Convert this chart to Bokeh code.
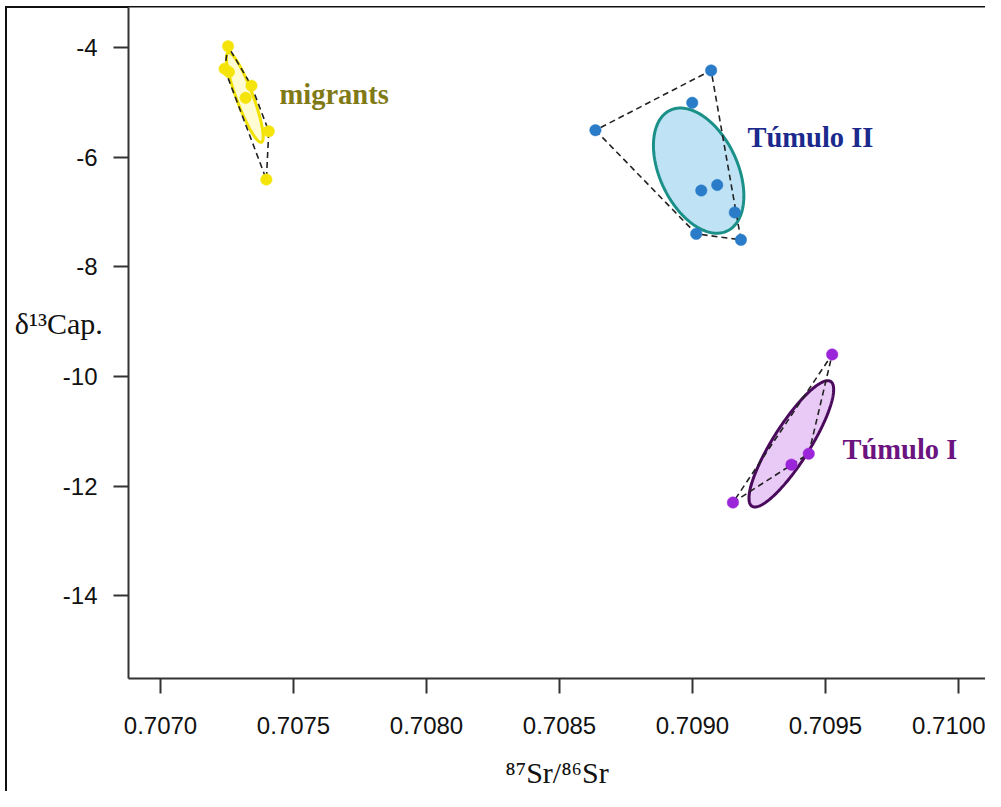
import numpy as np
from bokeh.plotting import figure
from bokeh.models import Label, FixedTicker, PrintfTickFormatter, Range1d
from bokeh.embed import file_html
from bokeh.resources import INLINE

# ---------------- data ----------------
mig_sr = [0.707254, 0.707241, 0.707257, 0.707342, 0.707320, 0.707407, 0.707398]
mig_c = [-3.98, -4.39, -4.45, -4.70, -4.92, -5.53, -6.41]

t2_sr = [0.709070, 0.708999, 0.708635, 0.709093, 0.709033, 0.709159, 0.709014, 0.709182]
t2_c = [-4.42, -5.01, -5.51, -6.51, -6.61, -7.01, -7.40, -7.51]

t1_sr = [0.709525, 0.709437, 0.709372, 0.709152]
t1_c = [-9.60, -11.41, -11.61, -12.30]

x_ticks = [0.7070, 0.7075, 0.7080, 0.7085, 0.7090, 0.7095, 0.7100]
y_ticks = [-14, -12, -10, -8, -6, -4]

group_names = ["migrants", "Túmulo II", "Túmulo I"]
x_title = "⁸⁷Sr/⁸⁶Sr"
y_title = "δ¹³Cap."

# ---------------- helpers ----------------
W, H = 985, 791
FL, FT = 128, 7            # frame left / top (px)
FR, FB = 985, 680          # frame right / bottom (px)
PXU_X = 266000.0           # px per unit of 87Sr/86Sr
PXU_Y = 55.0               # px per unit of d13C
X0 = 0.7070 - (160 - FL) / PXU_X
X1 = X0 + (FR - FL) / PXU_X
Y1 = -4 + (47 - FT) / PXU_Y
Y0 = Y1 - (FB - FT) / PXU_Y


def px2x(px):
    return X0 + (px - FL) / PXU_X


def px2y(py):
    return Y1 - (py - FT) / PXU_Y


def std_ellipse(x, y, n=240):
    d = np.vstack([np.asarray(x, float), np.asarray(y, float)])
    mu = d.mean(axis=1)
    S = np.cov(d)
    vals, vecs = np.linalg.eigh(S)
    t = np.linspace(0, 2 * np.pi, n)
    circ = np.vstack([np.cos(t), np.sin(t)])
    pts = mu[:, None] + vecs @ (np.sqrt(np.clip(vals, 0, None))[:, None] * circ)
    return list(pts[0]), list(pts[1])


def hull(x, y):
    pts = sorted(set(zip(x, y)))

    def cross(o, a, b):
        return (a[0] - o[0]) * (b[1] - o[1]) - (a[1] - o[1]) * (b[0] - o[0])

    lower, upper = [], []
    for pt in pts:
        while len(lower) >= 2 and cross(lower[-2], lower[-1], pt) <= 0:
            lower.pop()
        lower.append(pt)
    for pt in reversed(pts):
        while len(upper) >= 2 and cross(upper[-2], upper[-1], pt) <= 0:
            upper.pop()
        upper.append(pt)
    h = lower[:-1] + upper[:-1]
    h.append(h[0])
    return [q[0] for q in h], [q[1] for q in h]


# ---------------- figure ----------------
p = figure(width=W, height=H, x_range=Range1d(X0, X1), y_range=Range1d(Y0, Y1),
           output_backend="svg", toolbar_location=None,
           min_border_left=FL, min_border_right=W - FR, min_border_top=FT,
           min_border_bottom=H - FB)
p.styles = {"box-shadow": "inset 5px 6px 0 0 #ffffff, inset 7px 8px 0 0 #111111"}
p.outline_line_color = None
p.xgrid.visible = False
p.ygrid.visible = False
p.background_fill_color = "white"
p.border_fill_color = None

for ax in (p.xaxis[0], p.yaxis[0]):
    ax.axis_line_color = "#333333"
    ax.axis_line_width = 2
    ax.major_tick_line_color = "#333333"
    ax.major_tick_line_width = 2
    ax.major_tick_out = 15
    ax.major_tick_in = 0
    ax.minor_tick_line_color = None
    ax.major_label_text_font = "Liberation Sans"
    ax.major_label_text_font_size = "24px"
    ax.major_label_text_color = "#111111"
    ax.axis_label_text_font = "Liberation Serif"
    ax.axis_label_text_font_size = "30px"
    ax.axis_label_text_font_style = "normal"
    ax.axis_label_text_color = "#111111"

p.xaxis[0].ticker = FixedTicker(ticks=x_ticks)
p.xaxis[0].formatter = PrintfTickFormatter(format="%.4f")
p.xaxis[0].major_label_standoff = 23
p.xaxis[0].axis_label = x_title
p.xaxis[0].axis_label_standoff = 19

p.yaxis[0].ticker = FixedTicker(ticks=y_ticks)
p.yaxis[0].formatter = PrintfTickFormatter(format="%d")
p.yaxis[0].major_label_standoff = 16
p.yaxis[0].axis_label = y_title + "\n "
p.yaxis[0].axis_label_orientation = "horizontal"
p.yaxis[0].axis_label_standoff = -43

groups = [
    (mig_sr, mig_c, "#fffbd2", "#f2e200", "#f5e40a"),
    (t2_sr, t2_c, "#bfe3f5", "#1a9089", "#2b7cc8"),
    (t1_sr, t1_c, "#e9caf7", "#4a0a5c", "#9b25d9"),
]

for xs, ys, fill, edge, ptc in groups:
    ex, ey = std_ellipse(xs, ys)
    p.patch(ex, ey, fill_color=fill, line_color=edge, line_width=3)

for xs, ys, fill, edge, ptc in groups:
    hx, hy = hull(xs, ys)
    p.line(hx, hy, line_color="#222222", line_width=1.6, line_dash="6 4")

for xs, ys, fill, edge, ptc in groups:
    p.scatter(xs, ys, size=11.5, fill_color=ptc, line_color=ptc, line_width=0.5)

# group labels
lab_specs = [
    (group_names[0], 279, 94, "#7f7a15"),
    (group_names[1], 747, 137, "#1b2a8c"),
    (group_names[2], 842, 450, "#6b1480"),
]
for txt, lx, ly, col in lab_specs:
    p.add_layout(Label(x=px2x(lx), y=px2y(ly), text=txt, text_font="Liberation Serif",
                       text_font_style="bold", text_font_size="28.5px", text_color=col,
                       text_align="left", text_baseline="middle"))

open("out.html", "w").write(file_html(p, INLINE))
